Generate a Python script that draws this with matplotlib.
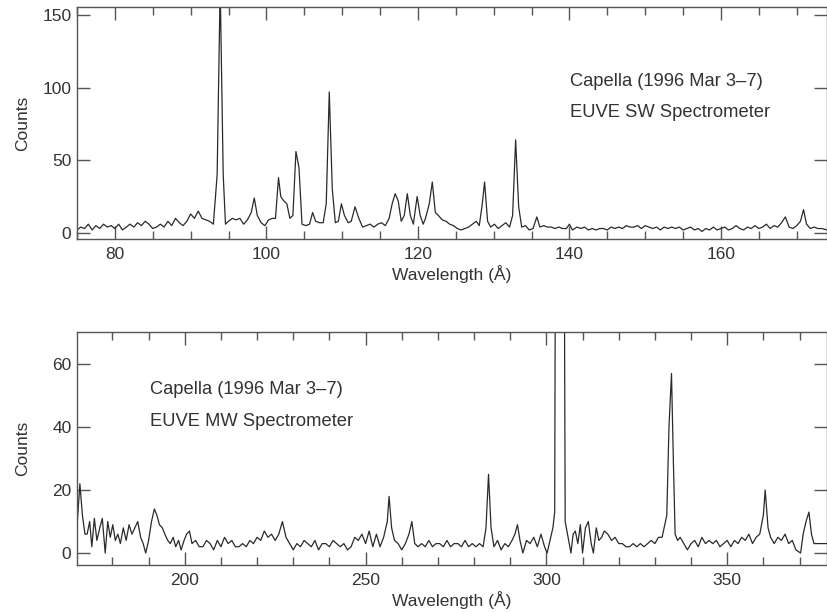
import matplotlib
matplotlib.use("Agg")
import matplotlib.pyplot as plt
from matplotlib.ticker import MultipleLocator

plt.rcParams['font.family'] = ['Liberation Sans', 'DejaVu Sans']

# ---- Top panel: EUVE SW spectrometer ----
sw_wave = [75.0, 75.5, 76.0, 76.5, 77.0, 77.5, 78.0, 78.5, 79.0, 79.5, 80.0, 80.5, 81.0, 81.5,
           82.0, 82.5, 83.0, 83.5, 84.0, 84.5, 85.0, 85.5, 86.0, 86.5, 87.0, 87.5, 88.0, 88.5,
           89.0, 89.5, 90.0, 90.5, 91.0, 91.5, 92.0, 92.5, 93.0, 93.5, 93.9, 94.3, 94.6, 95.0,
           95.5, 96.0, 96.5, 97.0, 97.5, 98.0, 98.4, 98.8, 99.3, 99.8, 100.3, 100.8, 101.2,
           101.6, 101.9, 102.3, 102.7, 103.1, 103.5, 103.9, 104.3, 104.7, 105.2, 105.7, 106.1,
           106.5, 107.0, 107.5, 107.9, 108.3, 108.7, 109.1, 109.5, 109.9, 110.3, 110.8, 111.2,
           111.7, 112.2, 112.7, 113.2, 113.7, 114.2, 114.7, 115.2, 115.7, 116.2, 116.6, 117.0,
           117.4, 117.8, 118.2, 118.6, 119.0, 119.4, 119.9, 120.3, 120.7, 121.0, 121.5, 121.9,
           122.3, 122.7, 123.2, 123.7, 124.2, 124.7, 125.2, 125.7, 126.2, 126.7, 127.2, 127.7,
           128.1, 128.5, 128.8, 129.2, 129.6, 130.1, 130.6, 131.1, 131.6, 132.1, 132.5, 132.9,
           133.3, 133.7, 134.2, 134.7, 135.2, 135.7, 136.1, 136.6, 137.1, 137.6, 138.1, 138.6,
           139.1, 139.6, 140.0, 140.4, 141.0, 141.5, 142.0, 142.5, 143.0, 143.5, 144.0, 144.5,
           145.0, 145.5, 146.0, 146.5, 147.0, 147.5, 148.0, 148.5, 149.0, 149.5, 150.0, 150.5,
           151.0, 151.5, 152.0, 152.5, 153.0, 153.5, 154.0, 154.5, 155.0, 155.5, 156.0, 156.5,
           157.0, 157.5, 158.0, 158.5, 159.0, 159.5, 160.0, 160.5, 161.0, 161.5, 162.0, 162.5,
           163.0, 163.5, 164.0, 164.5, 165.0, 165.5, 166.0, 166.5, 167.0, 167.5, 168.0, 168.5,
           169.0, 169.5, 170.0, 170.5, 170.9, 171.3, 171.8, 172.3, 172.8, 173.3, 174.0]
sw_counts = [2, 4, 3, 6, 2, 5, 3, 6, 4, 5, 3, 6, 2, 4,
             6, 4, 7, 5, 8, 6, 3, 4, 6, 4, 8, 5, 10, 7,
             5, 8, 13, 10, 15, 10, 9, 8, 6, 40, 170, 40, 6, 8,
             10, 9, 10, 6, 9, 14, 24, 12, 7, 5, 9, 10, 10,
             38, 25, 22, 20, 10, 12, 56, 45, 6, 5, 6, 14,
             8, 7, 7, 20, 97, 30, 7, 8, 20, 12, 7, 8,
             18, 10, 4, 5, 6, 4, 6, 7, 5, 10, 20, 27,
             22, 8, 12, 27, 12, 6, 25, 12, 6, 10, 20, 35,
             14, 12, 9, 8, 6, 5, 3, 2, 3, 4, 6, 8,
             5, 20, 35, 8, 4, 6, 3, 5, 7, 4, 12, 64,
             18, 4, 5, 2, 3, 11, 4, 5, 4, 4, 3, 4,
             3, 3, 6, 2, 4, 3, 4, 2, 3, 2, 3, 3,
             2, 4, 3, 4, 3, 5, 4, 4, 5, 3, 5, 4,
             3, 4, 2, 4, 3, 4, 3, 4, 2, 3, 4, 2,
             3, 1, 3, 2, 4, 2, 3, 4, 2, 3, 5, 3,
             2, 4, 3, 5, 3, 4, 6, 3, 5, 4, 7, 11,
             4, 3, 5, 8, 16, 6, 3, 4, 3, 3, 2]

# ---- Bottom panel: EUVE MW spectrometer ----
mw_wave = [170.3, 171.0, 171.7, 172.4, 173.0, 173.7, 174.3, 175.0, 175.7, 176.5, 177.2, 178.0,
           178.7, 179.4, 180.1, 180.8, 181.5, 182.2, 183.0, 183.8, 184.6, 185.4, 186.2, 187.0,
           187.8, 188.5, 189.2, 190.0, 190.8, 191.6, 192.3, 193.0, 193.8, 194.5, 195.3, 196.0,
           196.8, 197.5, 198.3, 199.0, 199.8, 200.5, 201.3, 202.0, 203, 204, 205, 206, 207, 208,
           209, 210, 211, 212, 213, 214, 215, 216, 217, 218, 219, 220, 221, 222, 223, 224, 225,
           226, 227, 228, 229, 230, 231, 232, 233, 234, 235, 236, 237, 238, 239, 240, 241, 242,
           243, 244, 245, 246, 247, 248, 249, 250, 251, 252, 253, 254, 255, 256, 256.5, 257.2,
           258, 259, 260, 261, 262, 262.8, 263.6, 264.5, 265.5, 266.5, 267.5, 268.5, 269.5,
           270.5, 271.5, 272.5, 273.5, 274.5, 275.5, 276.5, 277.5, 278.5, 279.5, 280.5, 281.5,
           282.5, 283.3, 284.0, 284.7, 285.5, 286.5, 287.5, 288.5, 289.5, 290.5, 291.3, 292.0,
           292.7, 293.5, 294.5, 295.5, 296.5, 297.5, 298.5, 299.5, 300.2, 301.0, 301.8, 302.3,
           302.6, 304.8, 305.2, 306.0, 306.8, 307.4, 308.0, 308.7, 309.4, 310.0, 310.8,
           311.6, 312.4, 313.0, 313.8, 314.5, 315.3, 316, 317, 318, 319, 320, 321, 322, 323,
           324, 325, 326, 327, 328, 329, 330, 331, 332, 333.3, 333.9, 334.6, 335.1, 335.6,
           336.3, 337, 338, 339, 340, 341, 342, 343, 344, 345, 346, 347, 348, 349, 350, 351,
           352, 353, 354, 355, 356, 357, 358, 359, 360, 360.5, 361.3, 362, 363, 364, 365, 366,
           367, 368, 369, 370.3, 371.0, 371.8, 372.6, 373.3, 374, 375, 376, 377, 378]
mw_counts = [10, 22, 12, 6, 6, 10, 2, 11, 4, 8, 11, 0,
             10, 5, 9, 4, 6, 3, 8, 4, 9, 6, 8, 10,
             5, 3, 0, 4, 10, 14, 12, 9, 8, 6, 4, 3,
             5, 2, 4, 1, 4, 6, 7, 3, 4, 2, 2, 4, 3, 1,
             4, 2, 5, 3, 4, 2, 2, 3, 2, 4, 3, 5, 4, 7, 5, 6, 4,
             6, 10, 5, 3, 1, 3, 2, 4, 3, 2, 4, 1, 3, 3, 2, 4, 3,
             2, 3, 1, 2, 5, 4, 6, 3, 7, 2, 6, 2, 5, 10, 18, 8,
             4, 3, 1, 3, 6, 10, 3, 2, 3, 2, 4, 2, 3,
             3, 2, 4, 2, 3, 3, 2, 4, 2, 3, 2, 3,
             2, 8, 25, 8, 2, 4, 1, 3, 2, 4, 6, 9,
             4, 0, 4, 3, 5, 2, 6, 2, 0, 4, 8, 13,
             150, 150, 10, 5, 0, 6, 7, 3, 9, 0, 8,
             10, 3, 0, 8, 4, 5, 7, 6, 4, 5, 3, 3, 2, 2,
             3, 2, 3, 2, 3, 4, 3, 5, 5, 12, 40, 57, 30, 6,
             4, 5, 3, 1, 3, 4, 2, 5, 3, 4, 3, 4, 2, 3, 4, 2,
             4, 3, 5, 4, 6, 3, 5, 6, 12, 20, 8, 5, 3, 5, 4, 6,
             3, 4, 1, 0, 6, 10, 13, 6, 3, 3, 3, 3, 3]

sw_ticks = [80, 100, 120, 140, 160]
sw_yticks = [0, 50, 100, 150]
mw_ticks = [200, 250, 300, 350]
mw_yticks = [0, 20, 40, 60]

line_color = '#2a2a2a'
spine_color = '#555555'
text_color = '#333333'
fs = 12.5
fs_note = 13.2

fig = plt.figure(figsize=(8.27, 6.12), dpi=100)
ax1 = fig.add_axes([0.0931, 0.6095, 0.9069, 0.3791])
ax2 = fig.add_axes([0.0931, 0.0768, 0.9069, 0.3807])


def style(ax, xmin):
    for s in ax.spines.values():
        s.set_color(spine_color)
        s.set_linewidth(1.0)
    ax.xaxis.set_minor_locator(MultipleLocator(xmin))
    ax.tick_params(which='both', direction='in', top=True, right=True,
                   color=spine_color, labelcolor=text_color, labelsize=fs)
    ax.tick_params(which='major', length=9.5, width=1.0)
    ax.tick_params(which='minor', length=6, width=1.0)
    ax.tick_params(axis='x', which='major', pad=6)
    ax.tick_params(axis='y', which='major', pad=4)
    ax.tick_params(axis='y', which='minor', left=False, right=False)
    ax.set_xlabel('Wavelength (Å)', fontsize=fs, color=text_color, labelpad=2)
    ax.set_ylabel('Counts', fontsize=fs, color=text_color)
    ax.yaxis.set_label_coords(-0.062, 0.5)


ax1.plot(sw_wave, sw_counts, color=line_color, lw=0.9)
ax1.set_xlim(75, 174)
ax1.set_ylim(-4.2, 155.5)
ax1.set_xticks(sw_ticks)
ax1.set_yticks(sw_yticks)
style(ax1, 5)
ax1.text(0.657, 0.677, 'Capella (1996 Mar 3–7)', transform=ax1.transAxes,
         fontsize=fs_note, color=text_color, va='center', ha='left')
ax1.text(0.657, 0.547, 'EUVE SW Spectrometer', transform=ax1.transAxes,
         fontsize=fs_note, color=text_color, va='center', ha='left')

ax2.plot(mw_wave, mw_counts, color=line_color, lw=0.9)
ax2.set_xlim(170.2, 377.6)
ax2.set_ylim(-3.8, 70.2)
ax2.set_xticks(mw_ticks)
ax2.set_yticks(mw_yticks)
style(ax2, 10)
ax2.text(0.098, 0.755, 'Capella (1996 Mar 3–7)', transform=ax2.transAxes,
         fontsize=fs_note, color=text_color, va='center', ha='left')
ax2.text(0.098, 0.614, 'EUVE MW Spectrometer', transform=ax2.transAxes,
         fontsize=fs_note, color=text_color, va='center', ha='left')

fig.savefig('out.png', dpi=100)
